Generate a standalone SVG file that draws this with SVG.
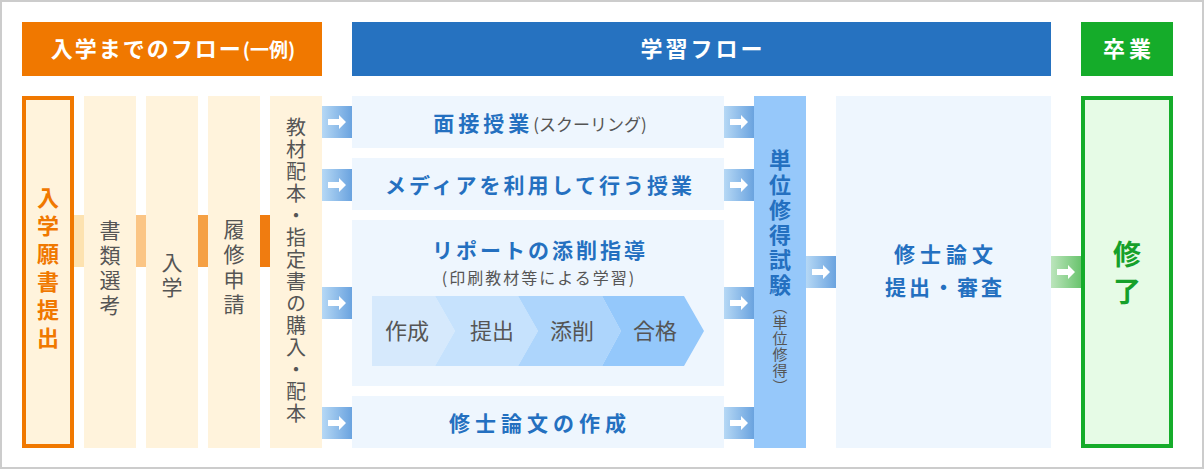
<svg xmlns="http://www.w3.org/2000/svg" width="1204" height="470" viewBox="0 0 1204 470">
<defs>
<linearGradient id="gBlue" x1="0" y1="0" x2="1" y2="0"><stop offset="0" stop-color="#B6D8F5"/><stop offset="1" stop-color="#6AA3DF"/></linearGradient>
<linearGradient id="gGreen" x1="0" y1="0" x2="1" y2="0"><stop offset="0" stop-color="#BCE5BC"/><stop offset="1" stop-color="#6AC46E"/></linearGradient>
<g id="arrowB"><rect x="0" y="0" width="30" height="32" fill="url(#gBlue)"/><path d="M6 13H17V9L24 16L17 23V19H6Z" fill="#fff"/></g>
<g id="arrowG"><rect x="0" y="0" width="30" height="32" fill="url(#gGreen)"/><path d="M6 13H17V9L24 16L17 23V19H6Z" fill="#fff"/></g>
</defs>
<style>
text{font-family:"Noto Sans CJK JP","Noto Sans",sans-serif}
.hd{fill:#fff;font-weight:bold;font-size:22px}
.cream{fill:#FFF3DC}
.pale{fill:#EEF6FE}
.vt{writing-mode:vertical-rl}
.gray{fill:#555}
.blue{fill:#2470C0;font-weight:bold}
.mid{text-anchor:middle}
</style>
<rect x="1" y="1" width="1202" height="467" fill="#fff" stroke="#CCCCCC" stroke-width="2"/>

<g id="header-pre">
<rect x="22" y="22" width="300" height="54" fill="#F07800"/>
<text x="173" y="57" class="hd mid"><tspan letter-spacing="2">入学までのフロー</tspan><tspan font-size="19">(一例)</tspan></text>
</g>
<g id="header-study">
<rect x="352" y="22" width="699" height="54" fill="#2672C0"/>
<text x="703" y="57" class="hd mid" letter-spacing="3">学習フロー</text>
</g>
<g id="header-grad">
<rect x="1081" y="22" width="92" height="54" fill="#15AC2A"/>
<text x="1129" y="57" class="hd mid" letter-spacing="4">卒業</text>
</g>

<g id="connectors">
<rect x="74" y="215" width="10" height="52" fill="#FDE2B0"/>
<rect x="136" y="215" width="10" height="52" fill="#FBC585"/>
<rect x="198" y="215" width="10" height="52" fill="#F5A044"/>
<rect x="260" y="215" width="10" height="52" fill="#F07C10"/>
<use href="#arrowB" x="322" y="106"/>
<use href="#arrowB" x="322" y="169"/>
<use href="#arrowB" x="322" y="287"/>
<use href="#arrowB" x="322" y="407"/>
<use href="#arrowB" x="724" y="106"/>
<use href="#arrowB" x="724" y="169"/>
<use href="#arrowB" x="724" y="287"/>
<use href="#arrowB" x="724" y="407"/>
<use href="#arrowB" x="806" y="256"/>
<use href="#arrowG" x="1051" y="256"/>
</g>

<g id="node-apply">
<rect x="24" y="98" width="48" height="348" class="cream" stroke="#F07800" stroke-width="4"/>
<text x="48" y="187" class="vt" font-size="22" font-weight="bold" fill="#F07800" letter-spacing="6">入学願書提出</text>
</g>
<g id="node-select">
<rect x="84" y="96" width="52" height="352" class="cream"/>
<text x="110" y="220" class="vt gray" font-size="21" letter-spacing="4">書類選考</text>
</g>
<g id="node-enter">
<rect x="146" y="96" width="52" height="352" class="cream"/>
<text x="172" y="252" class="vt gray" font-size="21" letter-spacing="4">入学</text>
</g>
<g id="node-register">
<rect x="208" y="96" width="52" height="352" class="cream"/>
<text x="234" y="219" class="vt gray" font-size="21" letter-spacing="4">履修申請</text>
</g>
<g id="node-materials">
<rect x="270" y="96" width="52" height="352" class="cream"/>
<text x="296" y="117" class="vt gray" font-size="20" letter-spacing="2">教材配本・指定書の購入・配本</text>
</g>

<g id="node-schooling">
<rect x="352" y="96" width="372" height="52" class="pale"/>
<text x="540" y="131" class="mid"><tspan class="blue" font-size="21" letter-spacing="4">面接授業</tspan><tspan class="gray" font-size="17">(スクーリング)</tspan></text>
</g>
<g id="node-media">
<rect x="352" y="158" width="372" height="52" class="pale"/>
<text x="540" y="193" class="blue mid" font-size="21" letter-spacing="3">メディアを利用して行う授業</text>
</g>
<g id="node-report">
<rect x="352" y="220" width="372" height="166" class="pale"/>
<text x="540" y="258" class="blue mid" font-size="21" letter-spacing="3">リポートの添削指導</text>
<text x="539" y="284" class="gray mid" font-size="16" letter-spacing="2">(印刷教材等による学習)</text>
<polygon points="372,296 435,296 455,331 435,366 372,366" fill="#D6E9FC"/>
<polygon points="435,296 518,296 538,331 518,366 435,366 455,331" fill="#C6E2FD"/>
<polygon points="518,296 602,296 621,331 602,366 518,366 538,331" fill="#ADD5FC"/>
<polygon points="602,296 684,296 704,331 684,366 602,366 621,331" fill="#94C8FB"/>
<text x="407" y="339" class="gray mid" font-size="22">作成</text>
<text x="492" y="339" class="gray mid" font-size="22">提出</text>
<text x="572" y="339" class="gray mid" font-size="22">添削</text>
<text x="655" y="339" class="gray mid" font-size="22">合格</text>
</g>
<g id="node-thesis">
<rect x="352" y="396" width="372" height="52" class="pale"/>
<text x="540" y="431" class="blue mid" font-size="21" letter-spacing="5">修士論文の作成</text>
</g>

<g id="node-exam">
<rect x="754" y="96" width="52" height="352" fill="#96C8FA"/>
<text x="780" y="149" class="vt"><tspan class="blue" font-size="22" letter-spacing="3">単位修得試験</tspan><tspan class="gray" font-size="15" letter-spacing="1">（単位修得）</tspan></text>
</g>
<g id="node-review">
<rect x="836" y="96" width="215" height="352" class="pale"/>
<text x="946" y="262" class="blue mid" font-size="21" letter-spacing="5">修士論文</text>
<text x="945" y="295" class="blue mid" font-size="21" letter-spacing="3">提出・審査</text>
</g>
<g id="node-complete">
<rect x="1083" y="98" width="88" height="348" fill="#E6FBE6" stroke="#15AC2A" stroke-width="4"/>
<text x="1127" y="265" class="mid" font-size="28" font-weight="bold" fill="#15A02A">修</text>
<text x="1127" y="302" class="mid" font-size="28" font-weight="bold" fill="#15A02A">了</text>
</g>
</svg>
